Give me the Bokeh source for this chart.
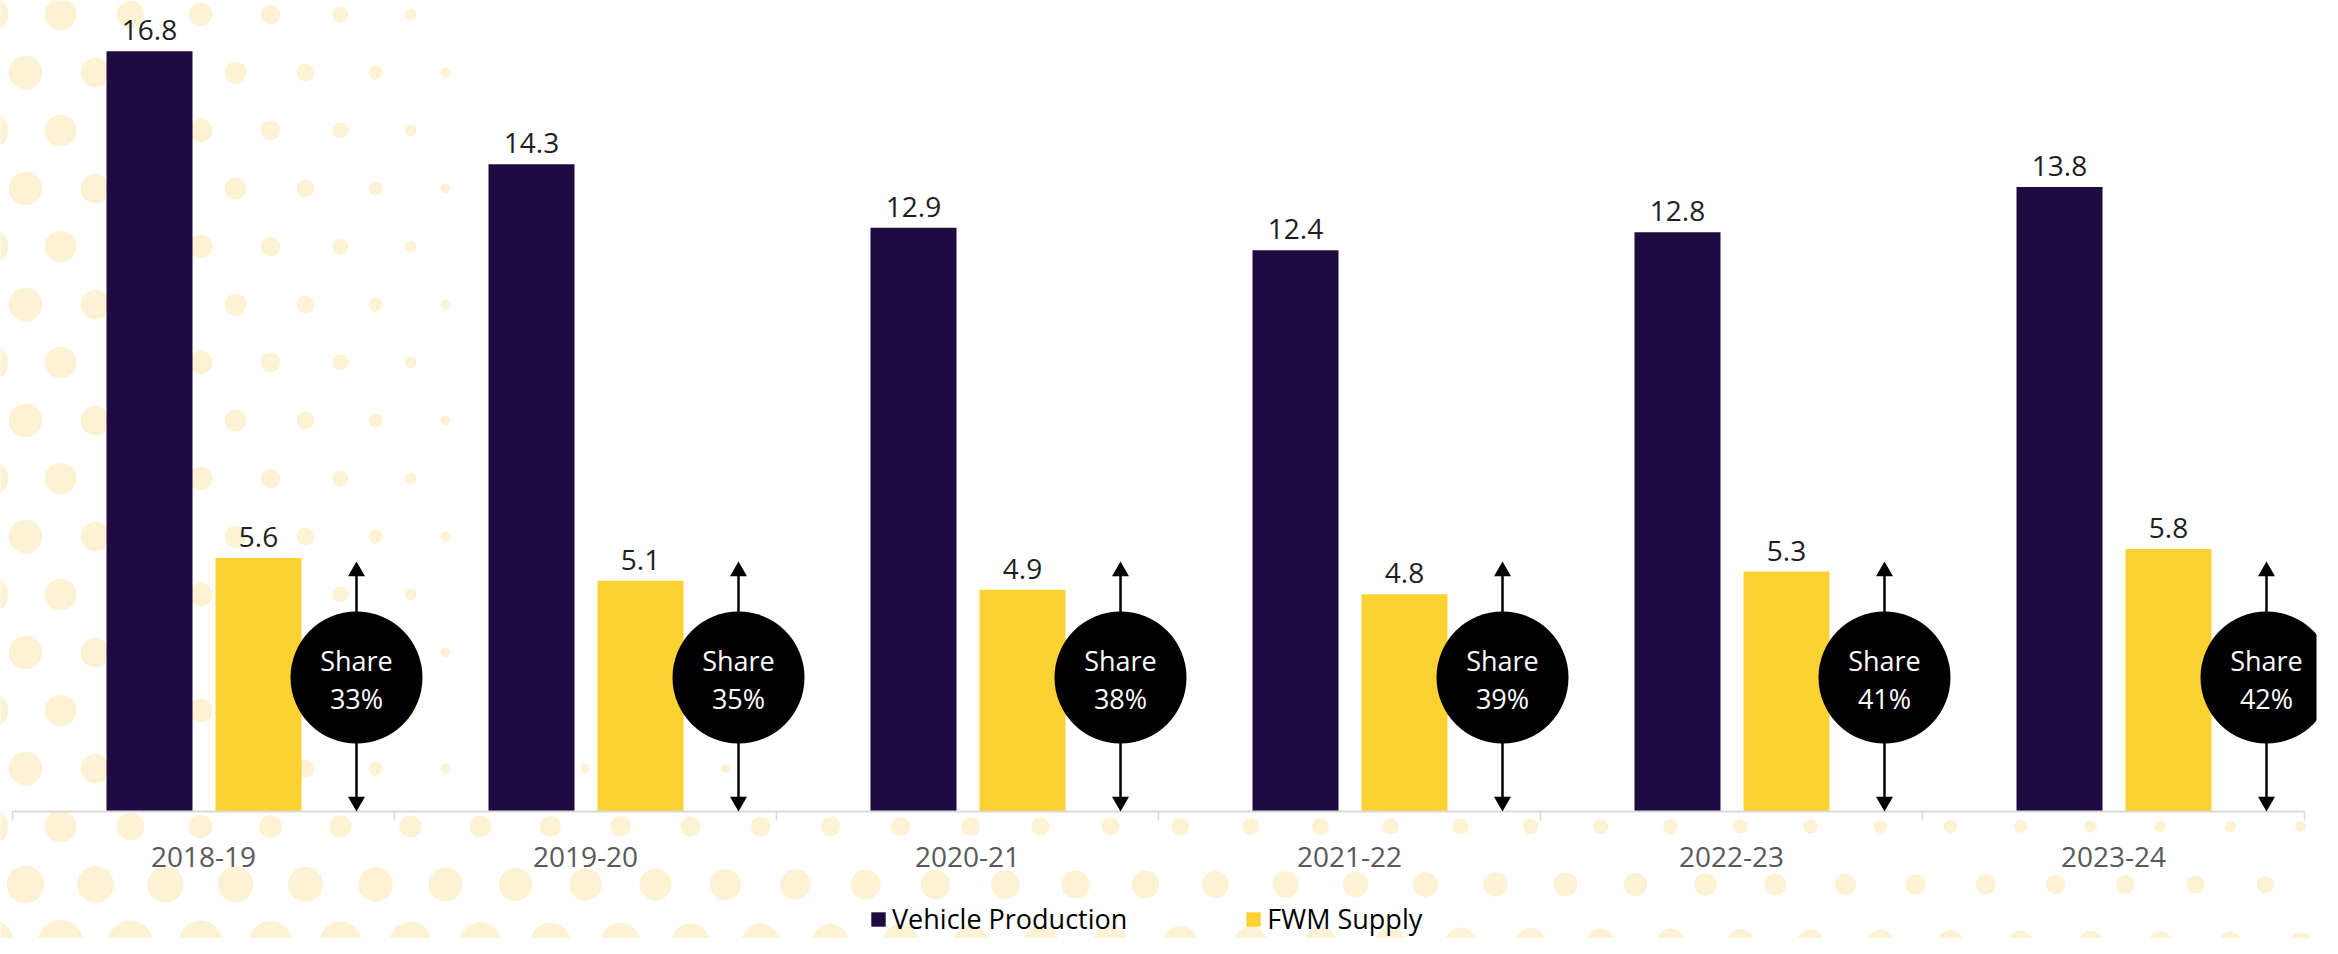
from bokeh.plotting import figure
from bokeh.models import Range1d, FactorRange, ColumnDataSource, Legend, LegendItem
from bokeh.transform import dodge
from bokeh.core.properties import value
from bokeh.embed import file_html
from bokeh.resources import INLINE

# ---------------- data ----------------
categories = ["2018-19", "2019-20", "2020-21", "2021-22", "2022-23", "2023-24"]
vehicle_production = [16.8, 14.3, 12.9, 12.4, 12.8, 13.8]
fwm_supply = [5.6, 5.1, 4.9, 4.8, 5.3, 5.8]
share_pct = [33, 35, 38, 39, 41, 42]
series_names = ["Vehicle Production", "FWM Supply"]

# ---------------- layout (pixels, figure coordinates) ----------------
PAD_PX = 12             # left / right padding of the category axis inside the frame
CAT_PX = 382.0          # width of one category
FRAME_W = int(round(6 * CAT_PX + 2 * PAD_PX))   # 2316
W, H = 2322, 938
UNIT_PX = 45.26         # pixels per data unit
BASE_Y = 811            # baseline, pixels from figure top
BASE_PX = H - BASE_Y

DARK = "#200A42"
YELLOW = "#FCD232"
DOT = "#FDF2D3"
FONT = "Open Sans"


def ypx(dy):
    """pixel distance above baseline -> data units"""
    return dy / UNIT_PX


# range_padding (absolute) is added on each side of the factor span
x_range = FactorRange(factors=categories, factor_padding=0,
                      range_padding=PAD_PX / CAT_PX, range_padding_units="absolute")
y_range = Range1d(-BASE_PX / UNIT_PX, (H - BASE_PX) / UNIT_PX)

p = figure(width=W, height=H, x_range=x_range, y_range=y_range,
           output_backend="svg", toolbar_location=None,
           min_border_left=0, min_border_top=0, min_border_bottom=0,
           min_border_right=W - FRAME_W,
           x_axis_location=None, y_axis_location=None,
           outline_line_color=None, background_fill_color="white",
           border_fill_color="white")
p.xgrid.visible = False
p.ygrid.visible = False

# ---------------- decorative halftone background ----------------
dot_x, dot_y, dot_s = [], [], []
row = 0
pix_y = 14
while pix_y < 960:
    shift = 35 if row % 2 else 0
    pix_x = shift - 10
    while pix_x < 2340:
        left = max(0.0, 1 - pix_x / 620) * 0.76
        bottom = max(0.0, min(1.0, (pix_y - 720) / 200)) * (1 - 0.55 * pix_x / 2338)
        inten = max(left, bottom)
        d = 46 * inten
        if d >= 9:
            dot_x.append((pix_x - PAD_PX) / CAT_PX)
            dot_y.append(ypx(BASE_Y - pix_y))
            dot_s.append(d)
        pix_x += 70
    pix_y += 58
    row += 1
p.scatter(x=dot_x, y=dot_y, size=dot_s, marker="circle",
          fill_color=DOT, line_color=None)

# ---------------- bars ----------------
src = ColumnDataSource(dict(cat=categories, veh=vehicle_production, fwm=fwm_supply,
                            veh_lbl=[f"{v:.1f}" for v in vehicle_production],
                            fwm_lbl=[f"{v:.1f}" for v in fwm_supply],
                            share=["Share"] * len(categories),
                            pct=[f"{s}%" for s in share_pct]))

OFF_DARK, OFF_YEL, OFF_ARROW, BAR_W = -54 / CAT_PX, 55 / CAT_PX, 153 / CAT_PX, 86 / CAT_PX

r_veh = p.vbar(x=dodge("cat", OFF_DARK, range=p.x_range), top="veh", bottom=0,
               width=BAR_W, source=src, fill_color=DARK, line_color=None)
r_fwm = p.vbar(x=dodge("cat", OFF_YEL, range=p.x_range), top="fwm", bottom=0,
               width=BAR_W, source=src, fill_color=YELLOW, line_color=None)

lbl_kw = dict(text_font=value(FONT), text_font_size="28px", text_align="center",
              text_baseline="alphabetic", text_color="#1E1E1E", y_offset=-21)
p.text(x=dodge("cat", OFF_DARK, range=p.x_range), y="veh", text="veh_lbl", source=src, **lbl_kw)
p.text(x=dodge("cat", OFF_YEL, range=p.x_range), y="fwm", text="fwm_lbl", source=src, **lbl_kw)

# ---------------- baseline + boundary ticks ----------------
n = len(categories)
p.segment(x0=[0], y0=[0], x1=[n], y1=[0], line_color="#D9D9D9", line_width=2)
p.segment(x0=list(range(n + 1)), y0=[0] * (n + 1), x1=list(range(n + 1)),
          y1=[ypx(-9)] * (n + 1), line_color="#D9D9D9", line_width=1.5)

# category labels
p.text(x="cat", y=0, text="cat", source=src, text_font=value(FONT),
       text_font_size="28px", text_align="center", text_baseline="alphabetic",
       text_color="#595959", y_offset=45)

# ---------------- double arrows + share circles ----------------
HEAD = 17
h = HEAD * 3 ** 0.5 / 2
ax = dodge("cat", OFF_ARROW, range=p.x_range)
p.segment(x0=ax, y0=ypx(250 - h * 0.9), x1=ax, y1=ypx(h * 0.9), source=src,
          line_color="black", line_width=2.5)
p.scatter(x=ax, y=ypx(250 - 2 * h / 3), source=src, marker="triangle", size=HEAD,
          fill_color="black", line_color=None)
p.scatter(x=ax, y=ypx(2 * h / 3), source=src, marker="inverted_triangle", size=HEAD,
          fill_color="black", line_color=None)

CIRCLE_Y = ypx(134)
p.scatter(x=ax, y=CIRCLE_Y, source=src, marker="circle", size=132,
          fill_color="black", line_color=None)
txt_kw = dict(text_font=value(FONT), text_font_size="27px", text_align="center",
              text_baseline="middle", text_color="white")
p.text(x=ax, y=CIRCLE_Y, text="share", source=src, y_offset=-17, **txt_kw)
p.text(x=ax, y=CIRCLE_Y, text="pct", source=src, y_offset=21, **txt_kw)

# ---------------- legend ----------------
legend = Legend(items=[LegendItem(label=series_names[0], renderers=[r_veh]),
                       LegendItem(label=series_names[1], renderers=[r_fwm])],
                orientation="horizontal", location=(869, 1),
                glyph_width=18, glyph_height=18, label_standoff=5, spacing=117,
                padding=0, margin=0, border_line_color=None,
                background_fill_alpha=0, label_text_font=FONT,
                label_text_font_size="27px", label_text_color="black")
p.add_layout(legend, "center")

open("out.html", "w").write(file_html(p, INLINE))
